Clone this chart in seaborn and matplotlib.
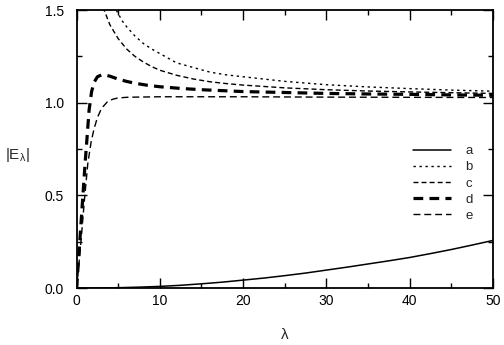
import matplotlib
matplotlib.use("Agg")
import matplotlib.pyplot as plt
import seaborn as sns
from matplotlib.ticker import MultipleLocator

# ---- data ----
lam_a = [0, 2.5, 5, 7.5, 10, 12.5, 15, 17.5, 20, 22.5, 25, 27.5, 30, 32.5, 35, 37.5, 40, 42.5, 45, 47.5, 50]
val_a = [0, 0.0005, 0.002, 0.005, 0.009, 0.015, 0.023, 0.032, 0.043, 0.054, 0.067, 0.081, 0.097, 0.113, 0.130, 0.147, 0.165, 0.186, 0.208, 0.232, 0.257]

lam_b = [4.3, 4.75, 5.5, 6, 7, 8, 9, 10, 12, 14, 16, 18, 20, 25, 30, 35, 40, 45, 50]
val_b = [1.56, 1.50, 1.44, 1.41, 1.36, 1.32, 1.29, 1.265, 1.215, 1.19, 1.165, 1.15, 1.14, 1.115, 1.097, 1.085, 1.076, 1.068, 1.062]

lam_c = [3.0, 3.3, 4, 5, 6, 7, 8, 9, 10, 12, 14, 16, 18, 20, 25, 30, 35, 40, 45, 50]
val_c = [1.56, 1.50, 1.42, 1.345, 1.29, 1.25, 1.22, 1.195, 1.175, 1.148, 1.128, 1.113, 1.103, 1.095, 1.08, 1.07, 1.063, 1.058, 1.054, 1.05]

lam_d = [0, 0.5, 1.0, 1.5, 1.8, 2.1, 2.5, 3.0, 3.5, 4, 5, 6, 7, 8.5, 10, 12.5, 15, 20, 25, 30, 35, 40, 45, 50]
val_d = [0, 0.33, 0.66, 0.96, 1.06, 1.11, 1.14, 1.15, 1.148, 1.143, 1.127, 1.115, 1.105, 1.094, 1.086, 1.077, 1.07, 1.06, 1.055, 1.05, 1.047, 1.045, 1.042, 1.04]

lam_e = [0, 0.14, 0.54, 0.94, 1.34, 1.75, 2.1, 2.5, 3.0, 3.7, 4.3, 4.9, 6, 7, 10, 15, 20, 30, 40, 50]
val_e = [0, 0.06, 0.26, 0.475, 0.67, 0.79, 0.86, 0.92, 0.97, 1.005, 1.018, 1.025, 1.029, 1.03, 1.032, 1.032, 1.032, 1.03, 1.029, 1.028]

labels = ["a", "b", "c", "d", "e"]

sns.set_style("ticks")
plt.rcParams["font.family"] = ["Liberation Sans", "DejaVu Sans"]
plt.rcParams["mathtext.fontset"] = "custom"
plt.rcParams["mathtext.rm"] = "Liberation Sans"
plt.rcParams["mathtext.it"] = "Liberation Sans"
plt.rcParams["lines.scale_dashes"] = False

fig = plt.figure(figsize=(5.04, 3.45), dpi=100)
ax = fig.add_axes([0.152, 0.165, 0.826, 0.806])

series = [(lam_a, val_a), (lam_b, val_b), (lam_c, val_c), (lam_d, val_d), (lam_e, val_e)]
widths = [1.1, 1.0, 1.0, 2.3, 1.0]
styles = ["-", (0, (1.7, 2.6)), (0, (3.6, 2.2)), (0, (7.0, 4.5)), (0, (5.0, 2.8))]

for (xs, ys), lab, lw, ls in zip(series, labels, widths, styles):
    sns.lineplot(x=xs, y=ys, ax=ax, color="black", lw=lw, linestyle=ls, label=lab, sort=False)

ax.set_xlim(0, 50)
ax.set_ylim(0, 1.5)
ax.xaxis.set_major_locator(MultipleLocator(10))
ax.xaxis.set_minor_locator(MultipleLocator(5))
ax.yaxis.set_major_locator(MultipleLocator(0.5))
ax.yaxis.set_minor_locator(MultipleLocator(0.25))
ax.yaxis.set_major_formatter(matplotlib.ticker.FormatStrFormatter("%.1f"))
ax.tick_params(which="both", direction="in", top=True, right=True, labelsize=10, width=1.0, colors="black")
ax.tick_params(which="major", length=7.2)
ax.tick_params(which="minor", length=3.3)
ax.tick_params(axis="x", which="major", pad=4)
ax.tick_params(axis="y", which="major", pad=9)
for sp in ax.spines.values():
    sp.set_linewidth(1.3)
    sp.set_color("black")

ax.set_xlabel("λ", fontsize=11, va="center")
ax.xaxis.set_label_coords(0.5, -0.168)
ax.set_ylabel(r"$\mathregular{|E_{\lambda}|}$", fontsize=11, rotation=0, va="center", ha="center")
ax.yaxis.set_label_coords(-0.143, 0.478)

leg = ax.legend(loc="center left", bbox_to_anchor=(0.807, 0.376), frameon=False,
                fontsize=9.5, handlelength=2.9, handletextpad=1.1, labelspacing=0.3,
                borderaxespad=0, borderpad=0)

fig.savefig("out.png", dpi=100)
